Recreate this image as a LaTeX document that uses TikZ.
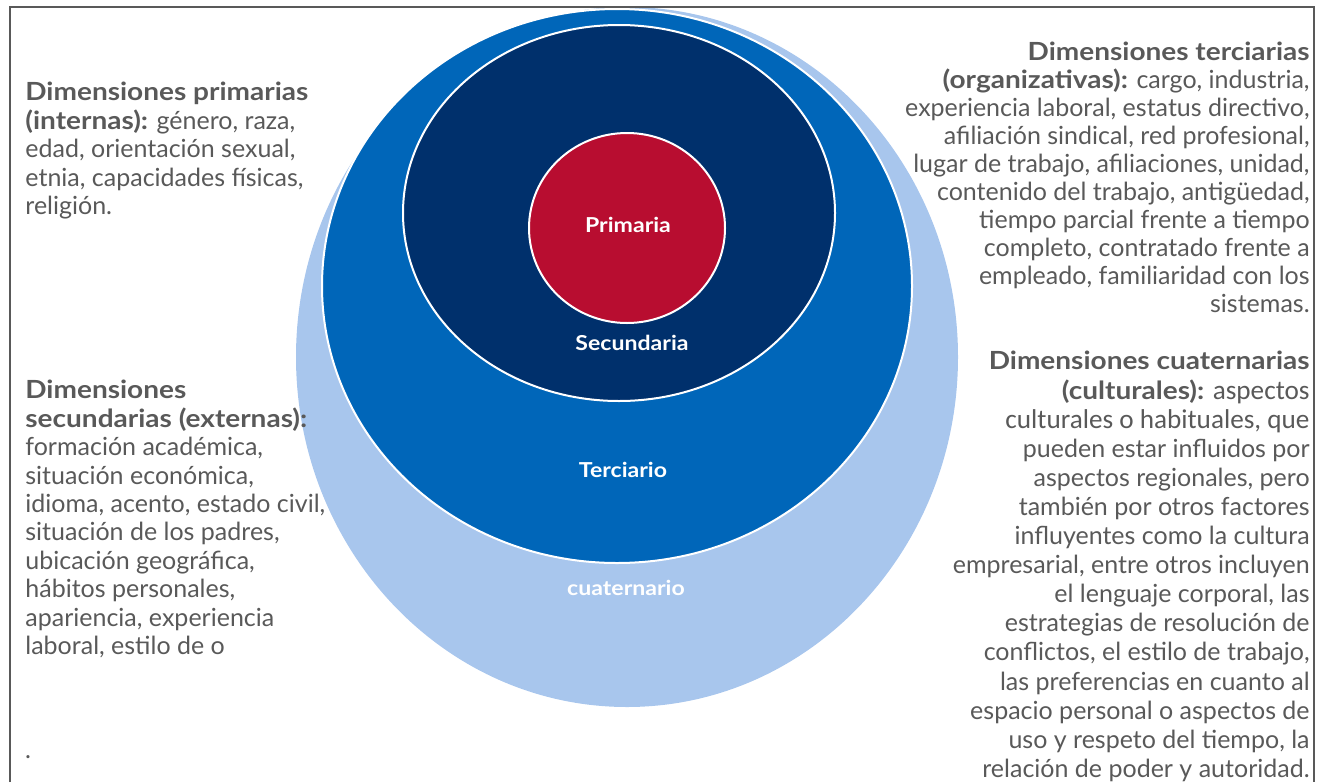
\documentclass[tikz,border=0pt]{standalone}
\usepackage{fontspec}
\setmainfont{Lato}[BoldFeatures={FakeStretch=1.12}]
\newfontfamily\calfont{Carlito}
\usetikzlibrary{shapes.geometric}
\definecolor{cuatblue}{HTML}{A8C6ED}
\definecolor{tercblue}{HTML}{0066B9}
\definecolor{secnavy}{HTML}{00306C}
\definecolor{primred}{HTML}{B80D30}
\definecolor{textgray}{HTML}{595959}
\begin{document}
\begin{tikzpicture}[x=0.5pt, y=-0.5pt,
  ring/.style={ellipse, draw=white, line width=1pt, inner sep=0pt},
  lbl/.style={text=white, font=\bfseries\fontsize{10.3}{12}\selectfont},
  txt/.style={text=textgray, inner sep=0pt, font=\fontsize{12.5}{14.2}\selectfont}
]
\useasboundingbox (0,0) rectangle (1322,782);

% nested rings, outermost first
\node[ring, draw=none, fill=cuatblue, minimum width=331pt, minimum height=350pt] (cuat) at (627,357) {};
\node[ring, fill=tercblue, minimum width=295pt, minimum height=277pt] (terc) at (617,286) {};
\node[ring, fill=secnavy, minimum width=216pt, minimum height=188pt] (sec) at (619,213) {};
\node[ring, fill=primred, minimum width=98pt, minimum height=95pt] (prim) at (627,228) {};

% ring labels
\node[lbl] (lprim) at (628,225) {Primaria};
\node[lbl] (lsec) at (632,343) {Secundaria};
\node[lbl] (lterc) at (623,470) {Terciario};
\node[lbl] (lcuat) at (626,588) {cuaternario};

% left column
\node[txt, anchor=north west, align=left] (tprim) at (25,82) {%
\textbf{Dimensiones primarias}\\
\textbf{(internas):} género, raza,\\
edad, orientación sexual,\\
etnia, capacidades físicas,\\
religión.};

\node[txt, anchor=north west, align=left] (tsec) at (25,380) {%
\textbf{Dimensiones}\\
\textbf{secundarias (externas):}\\
formación académica,\\
situación económica,\\
idioma, acento, estado civil,\\
situación de los padres,\\
ubicación geográfica,\\
hábitos personales,\\
apariencia, experiencia\\
laboral, estilo de o};

\node[txt] (dot) at (28,757) {.};

% right column
\node[txt, anchor=north east, align=right, font=\fontsize{12.5}{14}\selectfont] (tterc) at (1310,42) {%
\textbf{Dimensiones terciarias}\\
\textbf{(organizativas):} cargo, industria,\\
experiencia laboral, estatus directivo,\\
afiliación sindical, red profesional,\\
lugar de trabajo, afiliaciones, unidad,\\
contenido del trabajo, antigüedad,\\
tiempo parcial frente a tiempo\\
completo, contratado frente a\\
empleado, familiaridad con los\\
sistemas.};

\node[txt, anchor=north east, align=right, font=\fontsize{12.5}{14.55}\selectfont] (tcuat) at (1310,351) {%
\textbf{Dimensiones cuaternarias}\\
\textbf{(culturales):} {\calfont\fontsize{13.6}{14.55}\selectfont aspectos}\\
\calfont\fontsize{13.6}{14.55}\selectfont
culturales o habituales, que\\
pueden estar influidos por\\
aspectos regionales, pero\\
también por otros factores\\
influyentes como la cultura\\
empresarial, entre otros incluyen\\
el lenguaje corporal, las\\
estrategias de resolución de\\
conflictos, el estilo de trabajo,\\
las preferencias en cuanto al\\
espacio personal o aspectos de\\
uso y respeto del tiempo, la\\
relación de poder y autoridad.};

% frame, open at the bottom
\draw[textgray, line width=1pt] (9.5,782) -- (9.5,7) -- (1314,7) -- (1314,782);
\end{tikzpicture}
\end{document}
